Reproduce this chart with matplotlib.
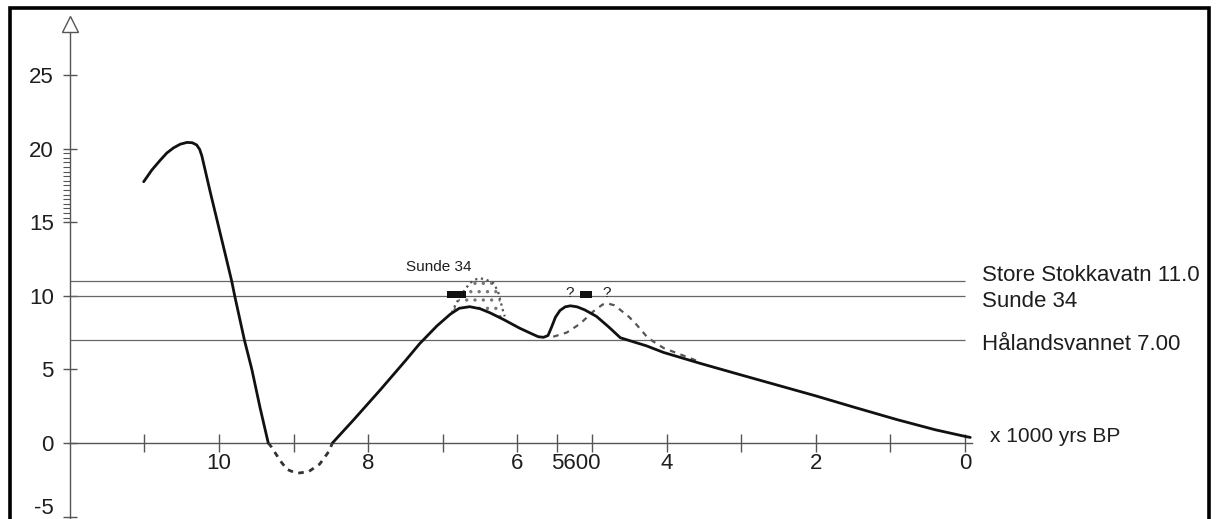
import numpy as np
import matplotlib
matplotlib.use("Agg")
import matplotlib.pyplot as plt
from matplotlib.patches import Rectangle
import matplotlib.transforms as mtransforms

plt.rcParams['font.family'] = ['Liberation Sans', 'DejaVu Sans']

# ---------------- data (x = 1000 yrs BP, y = sea level m) ----------------
early_t = [11.01, 10.9, 10.79, 10.7, 10.61, 10.52, 10.43, 10.36, 10.3, 10.26, 10.23,
           10.12, 10.02, 9.92, 9.83, 9.79, 9.66, 9.56, 9.45, 9.34]
early_y = [17.75, 18.55, 19.2, 19.7, 20.05, 20.3, 20.42, 20.4, 20.25, 19.95, 19.5,
           17.1, 15.0, 12.9, 11.0, 10.0, 7.0, 5.0, 2.4, 0.0]

dip_t = [9.34, 9.30, 9.18, 9.09, 8.96, 8.80, 8.65, 8.53, 8.48]
dip_y = [0.0, -0.25, -1.2, -1.79, -2.06, -1.95, -1.43, -0.59, 0.0]

rise_t = [8.48, 8.2, 7.84, 7.5, 7.31, 7.08, 6.9, 6.78, 6.64, 6.5, 6.37, 6.19, 5.97,
          5.8, 5.72, 5.65, 5.59, 5.54, 5.49, 5.43, 5.36, 5.29, 5.2, 5.1, 4.94, 4.78,
          4.62, 4.45, 4.27, 4.04, 3.55, 3.0, 2.0, 1.5, 0.92, 0.4, 0.0, -0.07]
rise_y = [0.0, 1.55, 3.6, 5.6, 6.75, 7.95, 8.75, 9.15, 9.26, 9.12, 8.85, 8.4, 7.8,
          7.4, 7.22, 7.18, 7.3, 7.9, 8.55, 9.0, 9.25, 9.32, 9.25, 9.05, 8.6, 7.9,
          7.15, 6.88, 6.6, 6.15, 5.41, 4.62, 3.2, 2.45, 1.6, 0.9, 0.45, 0.38]

alt2_t = [5.52, 5.34, 5.16, 4.98, 4.86, 4.8, 4.7, 4.62, 4.5, 4.4, 4.27, 4.18, 4.04,
          3.91, 3.73, 3.55]
alt2_y = [7.22, 7.5, 8.1, 8.95, 9.4, 9.5, 9.35, 9.04, 8.55, 8.02, 7.25, 6.9, 6.45,
          6.2, 5.85, 5.5]

alt1_t = [6.88, 6.82, 6.72, 6.64, 6.57, 6.5, 6.42, 6.32, 6.26, 6.23, 6.2, 6.17]
alt1_y = [8.85, 9.5, 10.3, 10.85, 11.1, 11.19, 11.1, 10.85, 10.3, 9.71, 9.1, 8.6]

levels = [11.0, 10.0, 7.0]
level_labels = ['Store Stokkavatn 11.0', 'Sunde 34', 'Hålandsvannet 7.00']
level_label_y = [11.4, 9.6, 6.66]

marker_t = [6.82, 5.08]
marker_w = [0.26, 0.17]
marker_bottom = 9.85
marker_h = 0.5

question_t = [5.30, 4.81]
question_y = 10.17

sunde_label = 'Sunde 34'
sunde_label_pos = (7.06, 11.98)

xticks = [11, 10, 9, 8, 7, 6, 5.47, 5, 4, 3, 2, 1, 0]
xticklabels = ['', '10', '', '8', '', '6', '', '', '4', '', '2', '', '0']
extra_xtick = [5.22]
extra_xticklabel = ['5600']
yticks = [-5, 0, 5, 10, 15, 20, 25]
yticklabels = ['-5', '0', '5', '10', '15', '20', '25']
yminor = list(np.arange(15, 20.01, 0.3125))
xunit_label = 'x 1000 yrs BP'

# ---------------- figure ----------------
W, H = 1220, 519
fig = plt.figure(figsize=(W / 100, H / 100), dpi=100)
ax = fig.add_axes([0, 0, 1, 1])
ax.set_xlim(12.936, -3.418)
ax.set_ylim(-5.163, 30.095)
ax.patch.set_visible(False)

axis_col = '#555555'
txt_col = '#1e1e1e'

for s in ('top', 'right'):
    ax.spines[s].set_visible(False)
ax.spines['left'].set_position(('data', 12))
ax.spines['left'].set_bounds(-5.4, 28.0)
ax.spines['bottom'].set_position(('data', 0))
ax.spines['bottom'].set_bounds(12, -0.09)
for s in ('left', 'bottom'):
    ax.spines[s].set_color(axis_col)
    ax.spines[s].set_linewidth(1.0)

ax.set_xticks(xticks)
ax.set_xticklabels(xticklabels)
ax.set_xticks(extra_xtick, minor=True)
ax.set_xticklabels(extra_xticklabel, minor=True)
ax.set_yticks(yticks)
ax.set_yticklabels(yticklabels)
ax.set_yticks(yminor, minor=True)

ax.tick_params(axis='x', which='major', direction='inout', length=13, width=1,
               color=axis_col, labelsize=16, labelcolor=txt_col, pad=1)
ax.tick_params(axis='x', which='minor', length=0, labelsize=16,
               labelcolor=txt_col, pad=7.5)
ax.tick_params(axis='y', which='major', direction='inout', length=10, width=1,
               color=axis_col, labelsize=16, labelcolor=txt_col, pad=6.5)
ax.tick_params(axis='y', which='minor', direction='out', length=5, width=0.8,
               color=axis_col)

# lift the bottom (-5) label slightly so it stays inside the picture
for lab in ax.get_yticklabels():
    if lab.get_text() == '-5':
        lab.set_transform(lab.get_transform() +
                          mtransforms.ScaledTranslation(0, 11 / 100, fig.dpi_scale_trans))

# axis arrow head (open triangle)
ax.plot([12], [28.45], marker='^', ms=11, mfc='white', mec=axis_col, mew=1.0,
        clip_on=False, zorder=5)

# reference levels
ax.hlines(levels, 12, 0, colors='#666666', linewidth=0.9)
for lab, ly in zip(level_labels, level_label_y):
    ax.text(-0.23, ly, lab, ha='left', va='center', fontsize=16, color=txt_col)

ax.text(-0.335, 0.43, xunit_label, ha='left', va='center', fontsize=15, color=txt_col)

# curves
ax.plot(early_t, early_y, color='#111111', lw=2.0, solid_capstyle='round',
        solid_joinstyle='round', zorder=4)
ax.plot(rise_t, rise_y, color='#111111', lw=2.0, solid_capstyle='round',
        solid_joinstyle='round', zorder=4)
ax.plot(dip_t, dip_y, color='#333333', lw=2.0, dashes=(2, 2), zorder=4)
ax.plot(alt2_t, alt2_y, color='#555555', lw=1.6, dashes=(2.5, 2.5), zorder=3)
ax.plot(alt1_t, alt1_y, color='#555555', lw=1.6, linestyle=':', zorder=3)

# stippled area between alternative peak and solid curve
rt = np.array(rise_t)
ry = np.array(rise_y)
m = (rt <= max(alt1_t)) & (rt >= min(alt1_t))
poly_t = list(alt1_t) + list(rt[m][::-1])
poly_y = list(alt1_y) + list(ry[m][::-1])
plt.rcParams['hatch.linewidth'] = 1.2
ax.fill(poly_t, poly_y, facecolor='none', edgecolor='#777777', hatch='..',
        linewidth=0, zorder=2)

# black markers on Sunde level
ax.bar(marker_t, marker_h, bottom=marker_bottom, width=marker_w, color='#111111',
       zorder=5)
for qt in question_t:
    ax.text(qt, question_y, '?', ha='center', va='center', fontsize=11, color=txt_col)

ax.text(sunde_label_pos[0], sunde_label_pos[1], sunde_label, ha='center',
        va='center', fontsize=11, color=txt_col)

# scan frame
fig.add_artist(Rectangle((10 / W, -0.05), (1209 - 10) / W, 1.05 - 8 / H,
                         transform=fig.transFigure, fill=False,
                         edgecolor='black', linewidth=2.6))

fig.savefig('out.png', dpi=100)
